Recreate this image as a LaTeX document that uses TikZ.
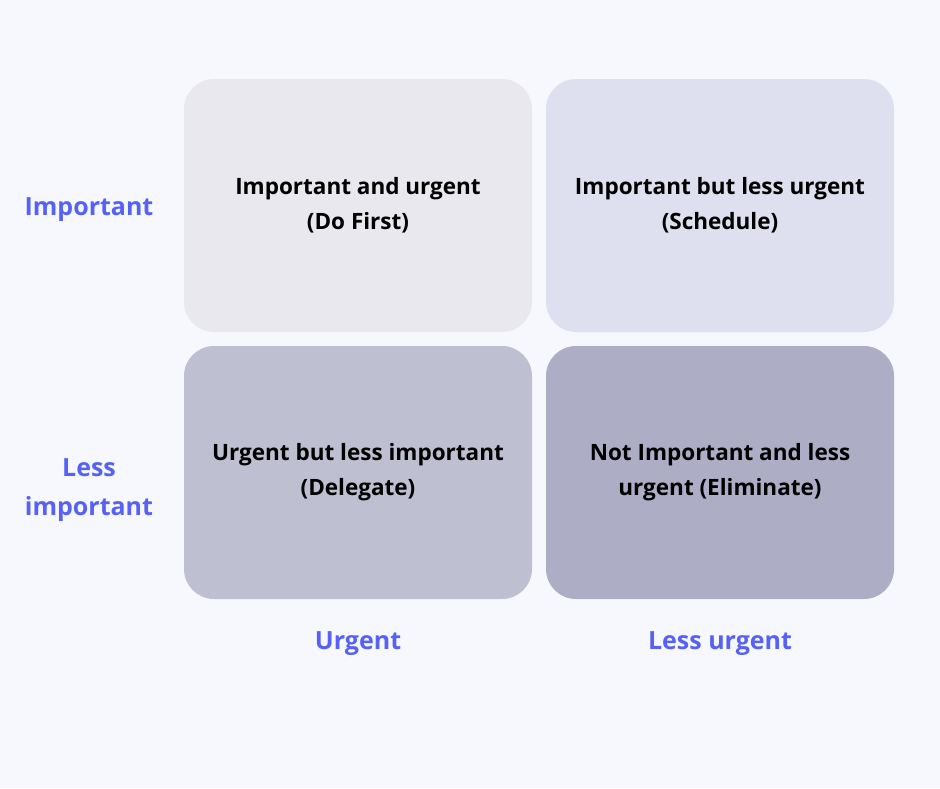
\documentclass[tikz,border=0pt]{standalone}
\usepackage{fontspec}
\setmainfont{Open Sans}
\usepackage{xcolor}
\definecolor{bgpage}{HTML}{F7F8FD}
\definecolor{cellA}{HTML}{E9E8EE}
\definecolor{cellB}{HTML}{DFE0EF}
\definecolor{cellC}{HTML}{BFBFD2}
\definecolor{cellD}{HTML}{AEADC6}
\definecolor{axisblue}{HTML}{5661F5}

\begin{document}
\begin{tikzpicture}[x=1pt,y=-1pt,
  cell/.style={rounded corners=30pt,minimum width=348pt,minimum height=253pt,
    inner sep=0pt,align=center,font=\bfseries\fontsize{22.5}{35}\selectfont},
  axislab/.style={text=axisblue,align=center,font=\bfseries\fontsize{25}{39}\selectfont}]
  \fill[bgpage] (0,0) rectangle (940,788);
  \useasboundingbox (0,0) rectangle (940,788);

  % quadrants
  \node[cell,fill=cellA] (doFirst) at (358,205.5) {Important and urgent\\(Do First)};
  \node[cell,fill=cellB] (schedule) at (720,205.5) {Important but less urgent\\(Schedule)};
  \node[cell,fill=cellC] (delegate) at (358,472.5) {Urgent but less important\\(Delegate)};
  \node[cell,fill=cellD] (eliminate) at (720,472.5) {Not Important and less\\urgent (Eliminate)};

  % axis labels
  \node[axislab] (important) at (89,210) {Important};
  \node[axislab] (lessImportant) at (89,490) {Less\\important};
  \node[axislab] (urgent) at (358,644) {Urgent};
  \node[axislab] (lessUrgent) at (720,644) {Less urgent};
\end{tikzpicture}
\end{document}
